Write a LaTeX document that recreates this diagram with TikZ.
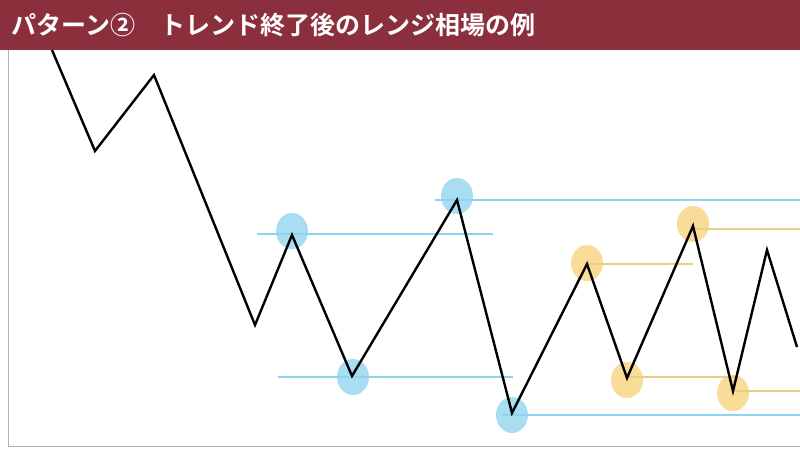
\documentclass[tikz,border=0pt]{standalone}
\usepackage{fontspec}
\newfontfamily\cjk{Noto Sans CJK JP}[BoldFont={Noto Sans CJK JP Bold}]
\definecolor{hdr}{HTML}{8B2F3D}
\definecolor{bl}{HTML}{8FD3F0}
\definecolor{bfill}{HTML}{A8DDF2}
\definecolor{yl}{HTML}{E9CF86}
\definecolor{yfill}{HTML}{F8DC98}
\tikzset{bline/.style={bl,line width=2pt},yline/.style={yl,line width=2pt},
bdot/.style={ellipse,fill=bfill,minimum width=32pt,minimum height=36pt,inner sep=0pt},
ydot/.style={ellipse,fill=yfill,minimum width=32pt,minimum height=36pt,inner sep=0pt}}
\usetikzlibrary{shapes.geometric}
\begin{document}
\begin{tikzpicture}[x=1pt,y=-1pt]
\useasboundingbox (0,0) rectangle (800,448);
\fill[white] (0,0) rectangle (800,448);
\draw[gray!60,line width=0.8pt] (8,50) -- (8,446) -- (800,446);
\fill[hdr] (0,0) rectangle (800,50);
\node[anchor=west,text=white,font=\cjk\bfseries\fontsize{25}{28}\selectfont] (title) at (8,25) {パターン②\quad トレンド終了後のレンジ相場の例};
% ellipses
\node[bdot] (b1) at (292,231) {};
\node[bdot] (b2) at (457,196) {};
\node[bdot] (b3) at (353,377) {};
\node[bdot] (b4) at (512,415) {};
\node[ydot] (y1) at (587,263) {};
\node[ydot] (y2) at (627,380) {};
\node[ydot] (y3) at (693,224) {};
\node[ydot] (y4) at (733,393) {};
% lines
\draw[bline] (257,234) -- (493,234);
\draw[bline] (435,200) -- (800,200);
\draw[bline] (278,377) -- (513,377);
\draw[bline] (503,415) -- (800,415);
\draw[yline] (587,264) -- (693,264);
\draw[yline] (693,229) -- (800,229);
\draw[yline] (627,377) -- (737,377);
\draw[yline] (733,391) -- (800,391);
% zigzag
\draw[black,line width=2.4pt,line join=miter] (52,50) -- (95,151) -- (154,75) -- (255,325) -- (292,235) -- (352,376) -- (457,200) -- (512,413) -- (587,264) -- (627,378) -- (693,226) -- (733,391) -- (767,250) -- (797,347);
\end{tikzpicture}
\end{document}
